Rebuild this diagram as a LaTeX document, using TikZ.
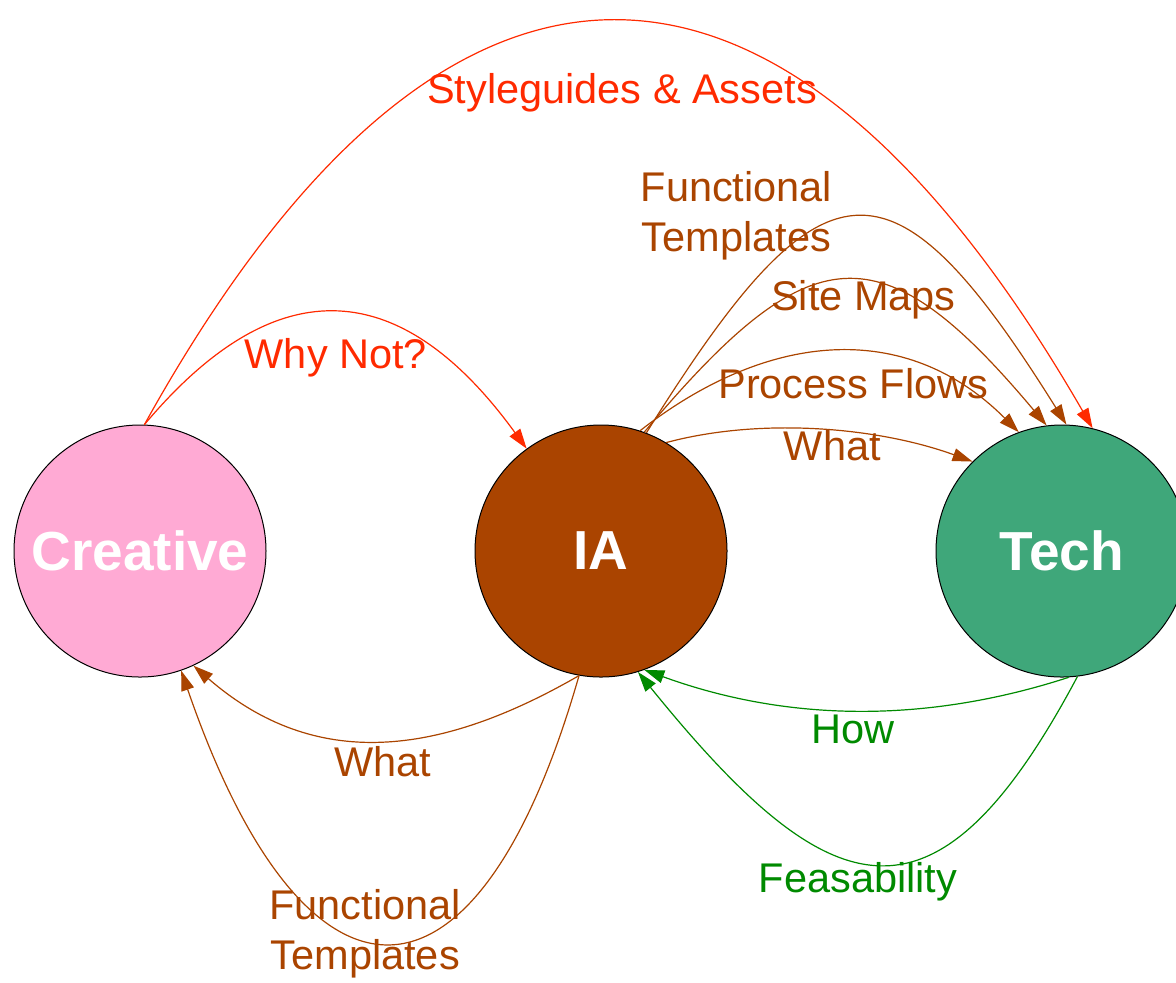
\documentclass[tikz,border=0pt]{standalone}
\usepackage{fontspec}
\setmainfont{Liberation Sans}
\usetikzlibrary{positioning, arrows.meta}

\definecolor{creativepink}{HTML}{FFAAD4}
\definecolor{iabrown}{HTML}{AA4400}
\definecolor{techgreen}{HTML}{3FA77A}
\definecolor{whyred}{HTML}{FF2A00}
\definecolor{howgreen}{HTML}{008A00}

\tikzset{
	team/.style={circle, draw=black, line width=0.5pt, minimum size=126pt, inner sep=0pt, text=white, font=\fontsize{27.5}{33}\selectfont\bfseries},
	flow/.style={line width=0.6pt, -{Triangle[length=10pt, width=6.5pt]}, font=\fontsize{20.75}{25}\selectfont},
}

\begin{document}
\begin{tikzpicture}[x=0.5pt, y=-0.5pt, node distance=230.5pt, on grid]
	\useasboundingbox (0,0) rectangle (1176,982);
	\node[team, fill=iabrown] (ia) at (601,551) {IA};
	\node[team, fill=creativepink, left=of ia] (creative) {Creative};
	\node[team, fill=techgreen, right=of ia] (tech) {Tech};
	
	\path[flow]
	(creative.88) edge[whyred, out=61, in=120, looseness=1.67] node[midway, xshift=3.5pt, yshift=-35.5pt] {Styleguides \& Assets} (tech.76)
	(creative.88) edge[whyred, out=50, in=126, looseness=1.40] node[midway, xshift=-2pt, yshift=-22.5pt] {Why Not?} (ia.126)
	(ia.69) edge[iabrown, out=58, in=122, looseness=2.02] node[midway, align=center, xshift=-60pt, yshift=1pt] {Functional\\Templates} (tech.88)
	(ia.70) edge[iabrown, out=50, in=130, looseness=1.64] node[midway, xshift=9pt, yshift=-9.5pt] {Site Maps} (tech.97)
	(ia.72) edge[iabrown, out=38, in=135, looseness=1.085] node[midway, xshift=9.5pt, yshift=-16pt] {Process Flows} (tech.110)
	(ia.59) edge[iabrown, out=15, in=160, looseness=0.83] node[midway, xshift=6pt, yshift=-8pt] {What} (tech.135)
	(ia.-100) edge[iabrown, out=210, in=-41, looseness=1.07] node[midway, xshift=1.5pt, yshift=-10.5pt] {What} (creative.-65)
	(ia.-100) edge[iabrown, out=254, in=-71, looseness=2.42] node[midway, align=center, xshift=-11pt, yshift=4.5pt] {Functional\\Templates} (creative.-71)
	(tech.-87) edge[howgreen, out=198, in=-20, looseness=0.91] node[midway, xshift=-1.5pt, yshift=-9.5pt] {How} (ia.-70)
	(tech.-83) edge[howgreen, out=242, in=-51, looseness=1.77] node[midway, xshift=-9pt, yshift=-9pt] {Feasability} (ia.-73);
\end{tikzpicture}
\end{document}
